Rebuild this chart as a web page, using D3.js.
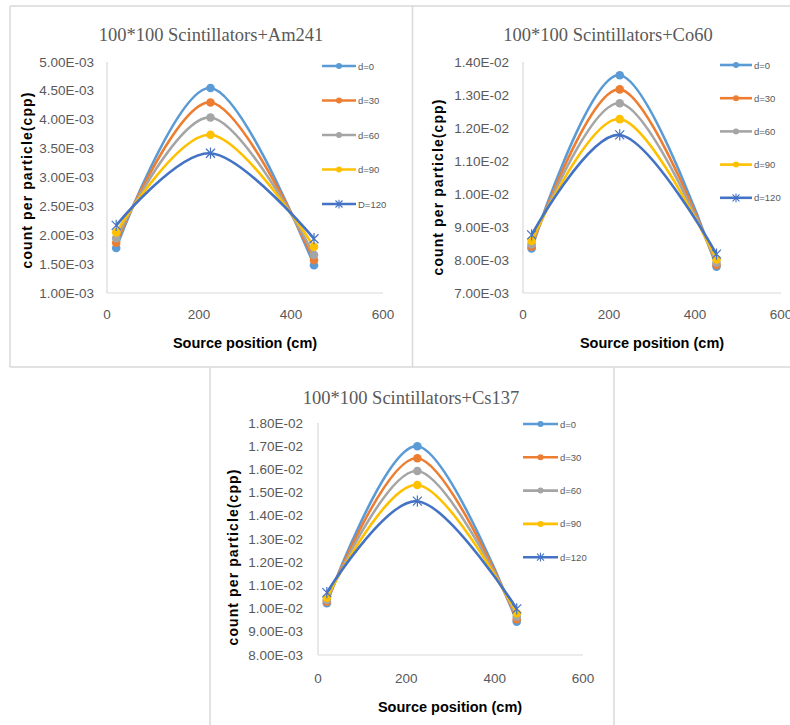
<!DOCTYPE html>
<html>
<head>
<meta charset="utf-8">
<script src="https://cdn.jsdelivr.net/npm/d3@7"></script>
<style>
  html, body { margin: 0; padding: 0; background: #ffffff; }
  svg { display: block; }
</style>
</head>
<body>
<svg id="chart" width="790" height="725"></svg>
<script>
// ---------------- DATA ----------------
const xPositions = [20, 225, 450];
const xTicks = [0, 200, 400, 600];
const seriesColors = ["#5B9BD5", "#ED7D31", "#A5A5A5", "#FFC000", "#4472C4"];

const am241Names = ["d=0", "d=30", "d=60", "d=90", "D=120"];
const am241_d0   = [1.78e-3, 4.55e-3, 1.48e-3];
const am241_d30  = [1.87e-3, 4.30e-3, 1.57e-3];
const am241_d60  = [1.95e-3, 4.04e-3, 1.66e-3];
const am241_d90  = [2.05e-3, 3.74e-3, 1.80e-3];
const am241_d120 = [2.17e-3, 3.42e-3, 1.94e-3];
const am241YTicks = [1.0e-3, 1.5e-3, 2.0e-3, 2.5e-3, 3.0e-3, 3.5e-3, 4.0e-3, 4.5e-3, 5.0e-3];

const co60Names = ["d=0", "d=30", "d=60", "d=90", "d=120"];
const co60_d0   = [8.35e-3, 1.360e-2, 7.80e-3];
const co60_d30  = [8.40e-3, 1.317e-2, 7.85e-3];
const co60_d60  = [8.48e-3, 1.275e-2, 7.92e-3];
const co60_d90  = [8.58e-3, 1.227e-2, 8.02e-3];
const co60_d120 = [8.76e-3, 1.179e-2, 8.18e-3];
const co60YTicks = [7.0e-3, 8.0e-3, 9.0e-3, 1.0e-2, 1.1e-2, 1.2e-2, 1.3e-2, 1.4e-2];

const cs137Names = ["d=0", "d=30", "d=60", "d=90", "d=120"];
const cs137_d0   = [1.023e-2, 1.700e-2, 9.44e-3];
const cs137_d30  = [1.030e-2, 1.648e-2, 9.54e-3];
const cs137_d60  = [1.037e-2, 1.593e-2, 9.65e-3];
const cs137_d90  = [1.047e-2, 1.533e-2, 9.80e-3];
const cs137_d120 = [1.069e-2, 1.463e-2, 9.99e-3];
const cs137YTicks = [8.0e-3, 9.0e-3, 1.0e-2, 1.1e-2, 1.2e-2, 1.3e-2, 1.4e-2, 1.5e-2, 1.6e-2, 1.7e-2, 1.8e-2];

const titles = ["100*100 Scintillators+Am241", "100*100 Scintillators+Co60", "100*100 Scintillators+Cs137"];
const yAxisTitle = "count  per particle(cpp)";
const xAxisTitle = "Source position (cm)";

// ---------------- LAYOUT ----------------
const svg = d3.select("#chart");
const frame = "#d9d9d9";

// panel frames
const frameLines = [
  [10, 6, 790, 6], [10, 6, 10, 367], [412.5, 6, 412.5, 367], [10, 367, 790, 367],
  [210, 367, 210, 725], [614, 367, 614, 725]
];
svg.selectAll("line.frame").data(frameLines).join("line")
  .attr("class", "frame")
  .attr("x1", d => d[0]).attr("y1", d => d[1]).attr("x2", d => d[2]).attr("y2", d => d[3])
  .attr("stroke", frame).attr("stroke-width", 1.5);

function fmtE(v) {
  const parts = v.toExponential(2).split("e");
  const n = +parts[1];
  return parts[0] + "E" + (n < 0 ? "-" : "+") + String(Math.abs(n)).padStart(2, "0");
}

function starPath(cx, cy, s) {
  return `M${cx - s},${cy - s}L${cx + s},${cy + s}M${cx - s},${cy + s}L${cx + s},${cy - s}M${cx},${cy - s * 1.25}L${cx},${cy + s * 1.25}`;
}

function drawPanel(cfg) {
  const g = svg.append("g");
  const x = d3.scaleLinear().domain([0, 600]).range([cfg.x0, cfg.x1]);
  const yT = cfg.yTicks;
  const y = d3.scaleLinear().domain([yT[0], yT[yT.length - 1]]).range([cfg.yBot, cfg.yTop]);

  // axes lines
  g.append("line").attr("x1", cfg.x0).attr("x2", cfg.x0).attr("y1", cfg.yTop).attr("y2", cfg.yBot)
    .attr("stroke", frame).attr("stroke-width", 1.2);
  g.append("line").attr("x1", cfg.x0).attr("x2", cfg.x1).attr("y1", cfg.yBot).attr("y2", cfg.yBot)
    .attr("stroke", frame).attr("stroke-width", 1.2);

  // y tick labels
  g.selectAll("text.yt").data(yT).join("text")
    .attr("class", "yt")
    .attr("x", cfg.x0 - cfg.tickGap).attr("y", d => y(d))
    .attr("text-anchor", "end").attr("dominant-baseline", "central")
    .attr("font-family", "Liberation Sans, Arial, sans-serif").attr("font-size", 13.5)
    .attr("fill", "#595959").text(d => fmtE(d));

  // x tick labels
  g.selectAll("text.xt").data(xTicks).join("text")
    .attr("class", "xt")
    .attr("x", d => x(d)).attr("y", cfg.xLabelY)
    .attr("text-anchor", "middle").attr("dominant-baseline", "central")
    .attr("font-family", "Liberation Sans, Arial, sans-serif").attr("font-size", 13.5)
    .attr("fill", "#595959").text(d => d);

  // title
  g.append("text").attr("x", cfg.titleX).attr("y", cfg.titleY)
    .attr("text-anchor", "middle").attr("dominant-baseline", "central")
    .attr("font-family", "Liberation Serif, Times New Roman, serif").attr("font-size", 18.5)
    .attr("fill", "#595959").text(cfg.title);

  // axis titles
  g.append("text").attr("transform", `translate(${cfg.yTitleX},${cfg.yTitleY}) rotate(-90)`)
    .attr("text-anchor", "middle").attr("dominant-baseline", "central")
    .attr("font-family", "Liberation Sans, Arial, sans-serif").attr("font-size", 14).attr("font-weight", "bold")
    .attr("letter-spacing", "1.1px")
    .attr("fill", "#000").text(yAxisTitle);
  g.append("text").attr("x", cfg.xTitleX).attr("y", cfg.xTitleY)
    .attr("text-anchor", "middle").attr("dominant-baseline", "central")
    .attr("font-family", "Liberation Sans, Arial, sans-serif").attr("font-size", 14.5).attr("font-weight", "bold")
    .attr("fill", "#000").text(xAxisTitle);

  const line = d3.line().x((d, i) => x(xPositions[i])).y(d => y(d)).curve(d3.curveCardinal.tension(0));

  // series lines (back to front: draw d=0 first)
  cfg.series.forEach((vals, si) => {
    g.append("path").attr("d", line(vals)).attr("fill", "none")
      .attr("stroke", seriesColors[si]).attr("stroke-width", 2.6).attr("stroke-linejoin", "round");
  });
  cfg.series.forEach((vals, si) => {
    vals.forEach((v, i) => {
      if (si === 4) {
        g.append("path").attr("d", starPath(x(xPositions[i]), y(v), 4.5)).attr("fill", "none")
          .attr("stroke", seriesColors[si]).attr("stroke-width", 1.2);
      } else {
        g.append("circle").attr("cx", x(xPositions[i])).attr("cy", y(v)).attr("r", 4.3)
          .attr("fill", seriesColors[si]);
      }
    });
  });

  // legend
  cfg.names.forEach((name, si) => {
    const ly = cfg.legY + si * cfg.legStep;
    const lx0 = cfg.legX0, lx1 = cfg.legX1, mx = (lx0 + lx1) / 2;
    g.append("line").attr("x1", lx0).attr("x2", lx1).attr("y1", ly).attr("y2", ly)
      .attr("stroke", seriesColors[si]).attr("stroke-width", 2.6);
    if (si === 4) {
      g.append("path").attr("d", starPath(mx, ly, 3.5)).attr("fill", "none")
        .attr("stroke", seriesColors[si]).attr("stroke-width", 1.1);
    } else {
      g.append("circle").attr("cx", mx).attr("cy", ly).attr("r", 3).attr("fill", seriesColors[si]);
    }
    g.append("text").attr("x", lx1 + 2).attr("y", ly).attr("dominant-baseline", "central")
      .attr("font-family", "Liberation Sans, Arial, sans-serif").attr("font-size", 9.5)
      .attr("fill", "#595959").text(name);
  });
}

drawPanel({
  title: titles[0], names: am241Names,
  series: [am241_d0, am241_d30, am241_d60, am241_d90, am241_d120],
  yTicks: am241YTicks,
  x0: 107, x1: 383, yTop: 62, yBot: 293, tickGap: 13, xLabelY: 314,
  titleX: 211, titleY: 35, yTitleX: 27, yTitleY: 180, xTitleX: 245, xTitleY: 343,
  legX0: 322, legX1: 356, legY: 66, legStep: 34.5
});
drawPanel({
  title: titles[1], names: co60Names,
  series: [co60_d0, co60_d30, co60_d60, co60_d90, co60_d120],
  yTicks: co60YTicks,
  x0: 523, x1: 781, yTop: 62, yBot: 293, tickGap: 14, xLabelY: 314,
  titleX: 608, titleY: 35, yTitleX: 438, yTitleY: 187, xTitleX: 652, xTitleY: 343,
  legX0: 720, legX1: 752, legY: 65, legStep: 33.2
});
drawPanel({
  title: titles[2], names: cs137Names,
  series: [cs137_d0, cs137_d30, cs137_d60, cs137_d90, cs137_d120],
  yTicks: cs137YTicks,
  x0: 318, x1: 583, yTop: 423, yBot: 655, tickGap: 15, xLabelY: 678,
  titleX: 411, titleY: 398, yTitleX: 233, yTitleY: 557, xTitleX: 450, xTitleY: 707,
  legX0: 523, legX1: 558, legY: 424, legStep: 33.3
});
</script>
</body>
</html>
